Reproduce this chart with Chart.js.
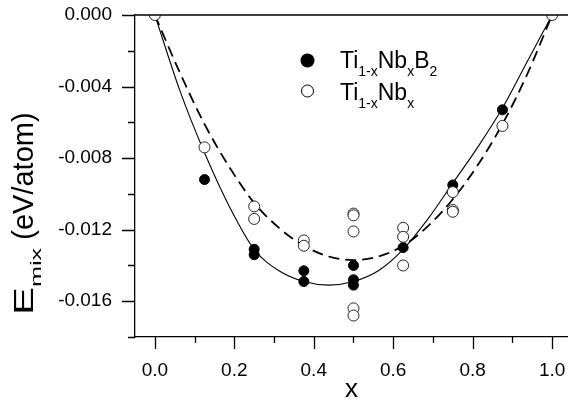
<!DOCTYPE html>
<html>
<head>
<meta charset="utf-8">
<script src="https://cdn.jsdelivr.net/npm/chart.js@4.4.1/dist/chart.umd.min.js"></script>
<style>
    html, body { margin: 0; padding: 0; background: #fff; overflow: hidden; }
    #wrap { width: 568px; height: 407px; }
</style>
</head>
<body>
<div id="wrap"><canvas id="mixChart"></canvas></div>
<script>
// Ti(1-x)Nb(x)B2 - filled circles
const borideX = [0.125, 0.25, 0.25, 0.375, 0.375, 0.5, 0.5, 0.5, 0.625, 0.75, 0.875];
const borideE = [-0.0092, -0.0131, -0.0134, -0.0143, -0.0149, -0.0140, -0.0148, -0.0151, -0.0130, -0.0095, -0.0053];

// Ti(1-x)Nb(x) - open circles
const alloyX = [0, 0.125, 0.25, 0.25, 0.375, 0.375, 0.5, 0.5, 0.5, 0.5, 0.5, 0.625, 0.625, 0.625, 0.75, 0.75, 0.75, 0.875, 1];
const alloyE = [0, -0.0074, -0.0107, -0.0114, -0.0126, -0.0129, -0.0111, -0.0112, -0.0121, -0.0164, -0.0168, -0.0119, -0.0124, -0.0140, -0.0099, -0.0109, -0.0110, -0.0062, 0];

// fitted curves
const fitX = [0, 0.0625, 0.125, 0.1875, 0.25, 0.3125, 0.375, 0.4375, 0.5, 0.5625, 0.625, 0.6875, 0.75, 0.8125, 0.875, 0.9375, 1];
const borideFit = [0, -0.0042, -0.0077, -0.0107, -0.0131, -0.0143, -0.0149, -0.0151, -0.0149, -0.0143, -0.0131, -0.0114, -0.0094, -0.0074, -0.0052, -0.0026, 0];
const alloyFit = [0, -0.0032, -0.0061, -0.0085, -0.0105, -0.0119, -0.0129, -0.0135, -0.0137, -0.0135, -0.0129, -0.0118, -0.0103, -0.0084, -0.0061, -0.0033, 0];

// axis ticks
const xTicks = [0, 0.2, 0.4, 0.6, 0.8, 1.0];
const xMinorTicks = [0.1, 0.3, 0.5, 0.7, 0.9];
const yTicks = [0, -0.004, -0.008, -0.012, -0.016];
const yMinorTicks = [-0.002, -0.006, -0.010, -0.014, -0.018];

const FONT = '"Liberation Sans", Arial, Helvetica, sans-serif';

function toPoints(xs, ys) {
    return xs.map(function(x, i) { return { x: x, y: ys[i] }; });
}

// draw text made of pieces (normal / subscript), pieces can be stretched along the text
function drawPieces(ctx, pieces, x, y) {
    let cx = x;
    pieces.forEach(function(p) {
        ctx.save();
        ctx.font = p.size + 'px ' + FONT;
        const w = ctx.measureText(p.text).width * (p.sx || 1);
        ctx.translate(cx, y + (p.dy || 0));
        ctx.scale(p.sx || 1, 1);
        ctx.fillText(p.text, 0, 0);
        ctx.restore();
        cx += w;
    });
}

// no extra room for tick labels, the plot box is fixed
function noPadding(scale) {
    scale.paddingLeft = 0;
    scale.paddingRight = 0;
    scale.paddingTop = 0;
    scale.paddingBottom = 0;
}

const decorPlugin = {
    id: 'decor',
    afterDraw: function(chart) {
        const ctx = chart.ctx;
        const area = chart.chartArea;
        const xs = chart.scales.x;
        const ys = chart.scales.y;

        ctx.save();
        ctx.strokeStyle = '#000';
        ctx.lineWidth = 1.3;

        // top frame line
        ctx.beginPath();
        ctx.moveTo(area.left, area.top);
        ctx.lineTo(area.right, area.top);
        ctx.stroke();

        // outward tick marks
        ctx.beginPath();
        xTicks.forEach(function(v) {
            const px = Math.round(xs.getPixelForValue(v)) + 0.5;
            ctx.moveTo(px, area.bottom);
            ctx.lineTo(px, area.bottom + 12);
        });
        xMinorTicks.forEach(function(v) {
            const px = Math.round(xs.getPixelForValue(v)) + 0.5;
            ctx.moveTo(px, area.bottom);
            ctx.lineTo(px, area.bottom + 6);
        });
        yTicks.forEach(function(v) {
            const py = Math.round(ys.getPixelForValue(v)) + 0.5;
            ctx.moveTo(area.left, py);
            ctx.lineTo(area.left - 13, py);
        });
        yMinorTicks.forEach(function(v) {
            const py = Math.round(ys.getPixelForValue(v)) + 0.5;
            ctx.moveTo(area.left, py);
            ctx.lineTo(area.left - 7, py);
        });
        ctx.stroke();

        ctx.fillStyle = '#000';
        ctx.textBaseline = 'alphabetic';
        ctx.textAlign = 'left';

        // y axis title, rotated
        ctx.save();
        ctx.translate(33, 315);
        ctx.rotate(-Math.PI / 2);
        drawPieces(ctx, [
            { text: 'E', size: 28, sx: 1.5 },
            { text: 'mix', size: 14, dy: 8, sx: 1.8 },
            { text: ' (eV/atom)', size: 29 }
        ], 0, 0);
        ctx.restore();

        // legend
        const lx = 307.5;
        ctx.beginPath();
        ctx.arc(lx, 60.5, 7, 0, Math.PI * 2);
        ctx.fill();
        ctx.beginPath();
        ctx.lineWidth = 1;
        ctx.fillStyle = '#fff';
        ctx.arc(lx, 91, 6, 0, Math.PI * 2);
        ctx.fill();
        ctx.stroke();
        ctx.fillStyle = '#000';
        drawPieces(ctx, [
            { text: 'Ti', size: 23 },
            { text: '1-x', size: 14, dy: 8.5 },
            { text: 'Nb', size: 23 },
            { text: 'x', size: 14, dy: 8.5 },
            { text: 'B', size: 23 },
            { text: '2', size: 14, dy: 8.5 }
        ], 340, 67.5);
        drawPieces(ctx, [
            { text: 'Ti', size: 23 },
            { text: '1-x', size: 14, dy: 8.5 },
            { text: 'Nb', size: 23 },
            { text: 'x', size: 14, dy: 8.5 }
        ], 340, 99.5);

        ctx.restore();
    }
};

const ctx = document.getElementById('mixChart');

new Chart(ctx, {
    type: 'scatter',
    data: {
        datasets: [
            {
                label: 'Ti1-xNbx',
                data: toPoints(alloyX, alloyE),
                pointRadius: 5.5,
                pointBackgroundColor: '#fff',
                pointBorderColor: '#222',
                pointBorderWidth: 1,
                clip: 0,
                order: 0
            },
            {
                label: 'Ti1-xNbxB2',
                data: toPoints(borideX, borideE),
                pointRadius: 5,
                pointBackgroundColor: '#000',
                pointBorderColor: '#000',
                pointBorderWidth: 1,
                clip: 0,
                order: 1
            },
            {
                type: 'line',
                label: 'fit B2',
                data: toPoints(fitX, borideFit),
                borderColor: '#000',
                borderWidth: 1.1,
                pointRadius: 0,
                cubicInterpolationMode: 'monotone',
                fill: false,
                clip: 0,
                order: 2
            },
            {
                type: 'line',
                label: 'fit',
                data: toPoints(fitX, alloyFit),
                borderColor: '#000',
                borderWidth: 1.8,
                borderDash: [11, 6],
                pointRadius: 0,
                cubicInterpolationMode: 'monotone',
                fill: false,
                clip: 0,
                order: 3
            }
        ]
    },
    options: {
        responsive: true,
        maintainAspectRatio: false,
        animation: false,
        layout: {
            autoPadding: false,
            padding: { top: 15, right: 0, left: 0, bottom: 0 }
        },
        plugins: {
            legend: { display: false },
            tooltip: { enabled: false }
        },
        scales: {
            x: {
                type: 'linear',
                min: -0.05,
                max: 1.04,
                afterBuildTicks: function(scale) {
                    scale.ticks = xTicks.map(function(v) { return { value: v }; });
                },
                afterFit: function(scale) {
                    scale.height = 70;
                    noPadding(scale);
                },
                grid: { display: false, drawTicks: false },
                border: { display: true, color: '#000', width: 1.3 },
                ticks: {
                    padding: 22,
                    color: '#000',
                    maxRotation: 0,
                    autoSkip: false,
                    font: { family: FONT, size: 19 },
                    callback: function(v) { return Number(v).toFixed(1); }
                },
                title: {
                    display: true,
                    text: 'x',
                    color: '#000',
                    font: { family: FONT, size: 26 },
                    padding: { top: 0, bottom: 2 }
                }
            },
            y: {
                type: 'linear',
                min: -0.018,
                max: 0,
                afterBuildTicks: function(scale) {
                    scale.ticks = yTicks.map(function(v) { return { value: v }; });
                },
                afterFit: function(scale) {
                    scale.width = 135;
                    noPadding(scale);
                },
                grid: { display: false, drawTicks: false },
                border: { display: true, color: '#000', width: 1.3 },
                ticks: {
                    padding: 23,
                    color: '#000',
                    autoSkip: false,
                    font: { family: FONT, size: 19 },
                    callback: function(v) { return Number(v).toFixed(3); }
                }
            }
        }
    },
    plugins: [decorPlugin]
});
</script>
</body>
</html>
